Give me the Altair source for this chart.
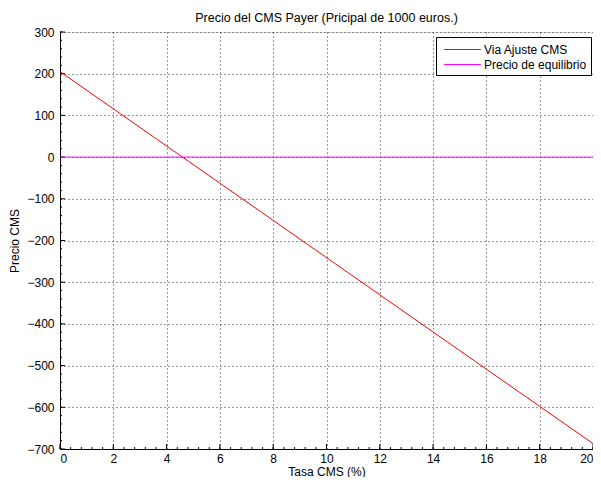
import altair as alt
import pandas as pd

# data
tasa = [0, 20]
precio_ajuste = [205, -687]
precio_equilibrio = [0, 0]
series_names = ["Via Ajuste CMS", "Precio de equilibrio"]
series_colors = ["#ff0000", "#ff00ff"]
x_major = [0, 2, 4, 6, 8, 10, 12, 14, 16, 18, 20]
y_major = [-700, -600, -500, -400, -300, -200, -100, 0, 100, 200, 300]
x_minor = [i * 0.4 for i in range(51)]
y_minor = [-700 + 20 * i for i in range(51)]

W, H = 533, 417

df = pd.DataFrame({
    "x": tasa + tasa,
    "y": precio_ajuste + precio_equilibrio,
    "serie": [series_names[0]] * 2 + [series_names[1]] * 2,
})

xs = alt.Scale(domain=[0, 20], nice=False, zero=False)
ys = alt.Scale(domain=[-700, 300], nice=False, zero=False)

font = "Liberation Sans"
FS = 12

dfxM = pd.DataFrame({"x": x_major})
dfxm = pd.DataFrame({"x": x_minor})
dfyM = pd.DataFrame({"y": y_major})
dfym = pd.DataFrame({"y": y_minor})

xt_major = alt.Chart(dfxM).mark_rule(color="#000", strokeWidth=1).encode(
    x=alt.X("x:Q", scale=xs, title="Tasa CMS (%)",
            axis=alt.Axis(values=x_major, grid=True, gridDash=[1, 3], gridColor="#000",
                          gridOpacity=0.8, ticks=False, labelPadding=4,
                          domainColor="#000", labelFontSize=FS, titleFontSize=FS,
                          titleFontWeight="normal", labelColor="#000", titleColor="#000",
                          titlePadding=2, labelFont=font, titleFont=font)),
    y=alt.value(H), y2=alt.value(H - 5))
xt_minor = alt.Chart(dfxm).mark_rule(color="#000", strokeWidth=1).encode(
    x=alt.X("x:Q", scale=xs), y=alt.value(H), y2=alt.value(H - 2))
yt_major = alt.Chart(dfyM).mark_rule(color="#000", strokeWidth=1).encode(
    y=alt.Y("y:Q", scale=ys, title="Precio CMS",
            axis=alt.Axis(values=y_major, grid=True, gridDash=[1, 3], gridColor="#000",
                          gridOpacity=0.8, ticks=False, labelPadding=6,
                          domainColor="#000", labelFontSize=FS, titleFontSize=FS,
                          titleFontWeight="normal", labelColor="#000", titleColor="#000",
                          titlePadding=5, labelFont=font, titleFont=font)),
    x=alt.value(0), x2=alt.value(5))
yt_minor = alt.Chart(dfym).mark_rule(color="#000", strokeWidth=1).encode(
    y=alt.Y("y:Q", scale=ys), x=alt.value(0), x2=alt.value(2))

lines = alt.Chart(df).mark_line(strokeWidth=1, clip=True).encode(
    x=alt.X("x:Q", scale=xs),
    y=alt.Y("y:Q", scale=ys),
    color=alt.Color("serie:N", sort=series_names,
                    scale=alt.Scale(domain=series_names, range=series_colors),
                    legend=alt.Legend(title=None, orient="none", legendX=376, legendY=5,
                                      symbolType="M-2.3,0H2.3", symbolSize=256,
                                      symbolStrokeWidth=1, symbolOffset=14,
                                      labelOffset=13, labelFontSize=FS,
                                      labelFont=font, labelColor="#000",
                                      strokeColor="#000", fillColor="#fff",
                                      padding=4, rowPadding=0)),
)

chart = alt.layer(xt_major, xt_minor, yt_major, yt_minor, lines).properties(
    width=W, height=H,
    title=alt.TitleParams("Precio del CMS Payer (Pricipal de 1000 euros.)",
                          fontSize=12.5, fontWeight="normal", font=font, color="#000",
                          offset=2),
    autosize=alt.AutoSizeParams(type="none"),
    padding={"left": 52, "top": 24, "right": 0, "bottom": 28},
).configure_view(stroke=None).configure(background="#fff")

chart.save("out.html", embed_options={"renderer": "svg", "actions": False})
